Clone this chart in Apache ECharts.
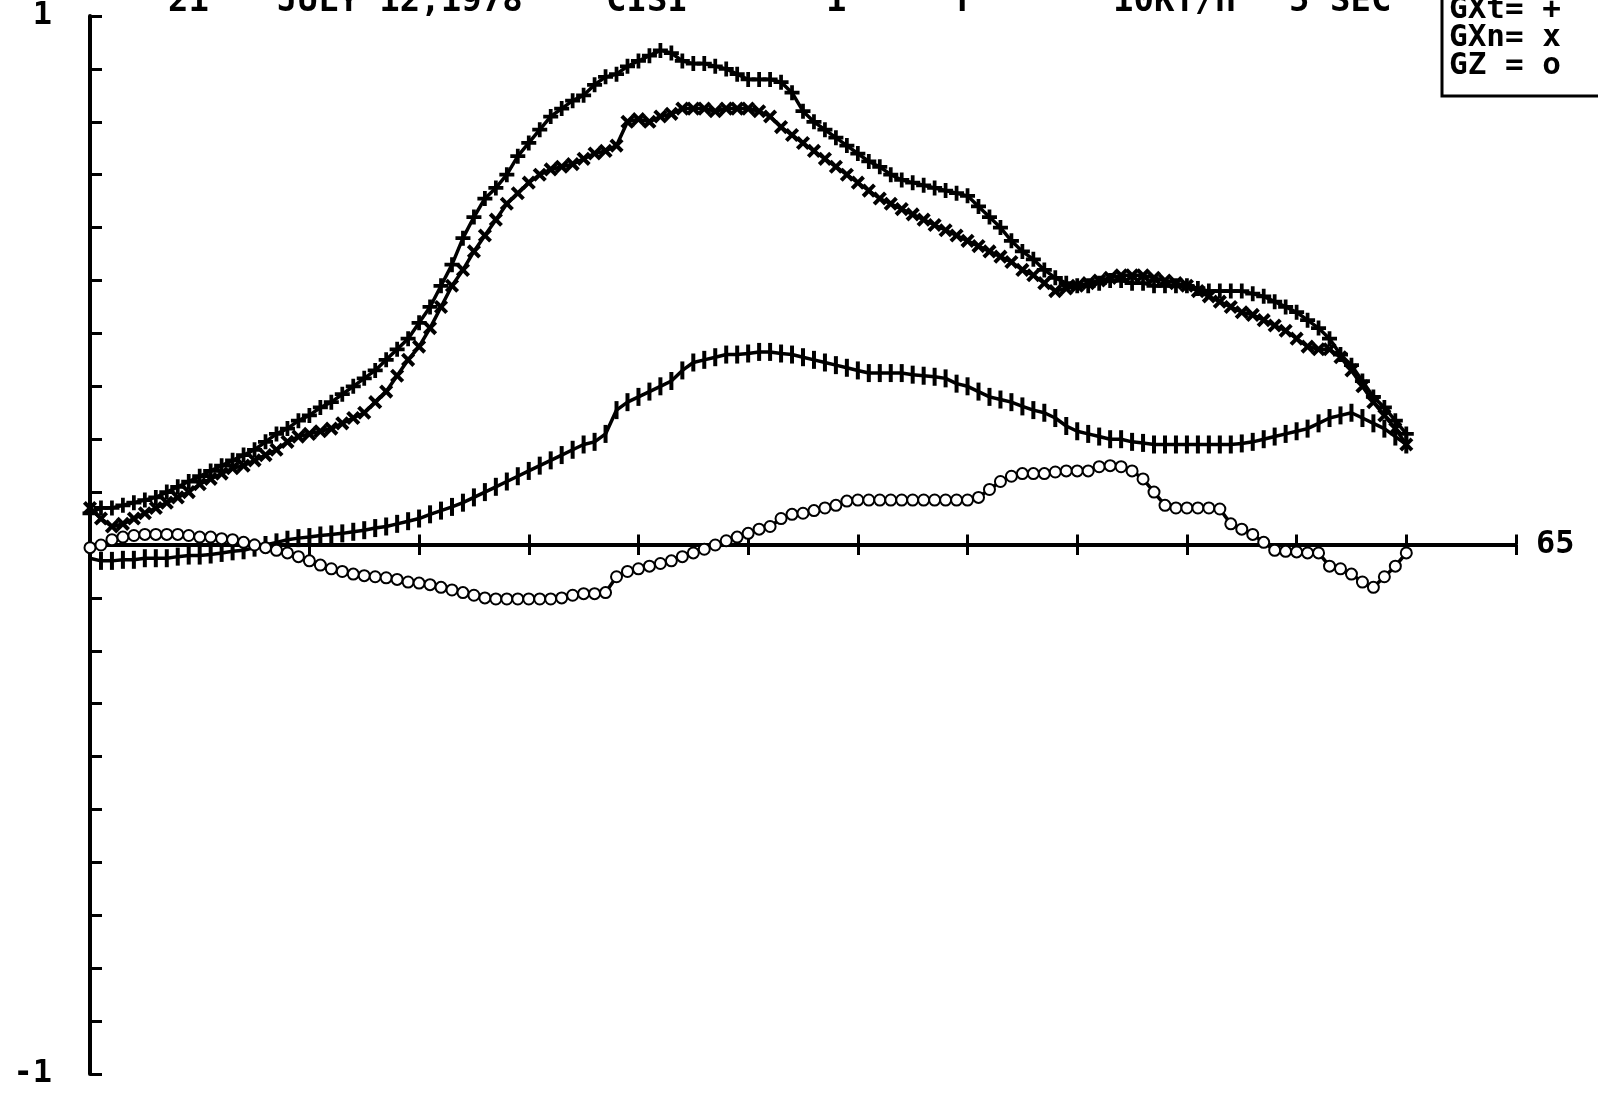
<!DOCTYPE html>
<html>
<head>
<meta charset="utf-8">
<script src="https://cdn.jsdelivr.net/npm/echarts@6/dist/echarts.min.js"></script>
<style>
  html, body { margin: 0; padding: 0; background: #fff; }
  #chart { width: 1598px; height: 1093px; }
</style>
</head>
<body>
<div id="chart"></div>
<script>
// sample times (x axis), one point every half unit
const sampleT = [
  0, 0.5, 1, 1.5, 2, 2.5, 3, 3.5, 4, 4.5,
  5, 5.5, 6, 6.5, 7, 7.5, 8, 8.5, 9, 9.5,
  10, 10.5, 11, 11.5, 12, 12.5, 13, 13.5, 14, 14.5,
  15, 15.5, 16, 16.5, 17, 17.5, 18, 18.5, 19, 19.5,
  20, 20.5, 21, 21.5, 22, 22.5, 23, 23.5, 24, 24.5,
  25, 25.5, 26, 26.5, 27, 27.5, 28, 28.5, 29, 29.5,
  30, 30.5, 31, 31.5, 32, 32.5, 33, 33.5, 34, 34.5,
  35, 35.5, 36, 36.5, 37, 37.5, 38, 38.5, 39, 39.5,
  40, 40.5, 41, 41.5, 42, 42.5, 43, 43.5, 44, 44.5,
  45, 45.5, 46, 46.5, 47, 47.5, 48, 48.5, 49, 49.5,
  50, 50.5, 51, 51.5, 52, 52.5, 53, 53.5, 54, 54.5,
  55, 55.5, 56, 56.5, 57, 57.5, 58, 58.5, 59, 59.5,
  60
]

// GXt (+)
const gxt = [
  0.06, 0.07, 0.07, 0.075, 0.08, 0.085, 0.09, 0.10, 0.11, 0.12,
  0.13, 0.14, 0.15, 0.16, 0.17, 0.18, 0.195, 0.21, 0.22, 0.235,
  0.245, 0.26, 0.27, 0.285, 0.30, 0.315, 0.33, 0.35, 0.37, 0.39,
  0.42, 0.45, 0.49, 0.53, 0.58, 0.62, 0.655, 0.675, 0.70, 0.735,
  0.76, 0.785, 0.81, 0.825, 0.84, 0.85, 0.87, 0.885, 0.89, 0.905,
  0.915, 0.925, 0.935, 0.93, 0.915, 0.91, 0.91, 0.905, 0.90, 0.89,
  0.88, 0.88, 0.88, 0.875, 0.855, 0.82, 0.80, 0.785, 0.77, 0.755,
  0.74, 0.725, 0.715, 0.70, 0.69, 0.685, 0.68, 0.675, 0.67, 0.665,
  0.66, 0.64, 0.62, 0.60, 0.575, 0.555, 0.54, 0.52, 0.505, 0.495,
  0.49, 0.49, 0.495, 0.50, 0.50, 0.495, 0.495, 0.49, 0.49, 0.49,
  0.49, 0.485, 0.48, 0.48, 0.48, 0.48, 0.475, 0.47, 0.46, 0.45,
  0.44, 0.425, 0.41, 0.39, 0.36, 0.34, 0.31, 0.28, 0.26, 0.235,
  0.21
]

// GXn (x)
const gxn = [
  0.07, 0.05, 0.035, 0.04, 0.05, 0.06, 0.07, 0.08, 0.09, 0.10,
  0.115, 0.125, 0.135, 0.145, 0.15, 0.16, 0.17, 0.18, 0.195, 0.205,
  0.21, 0.215, 0.22, 0.23, 0.24, 0.25, 0.27, 0.29, 0.32, 0.35,
  0.375, 0.41, 0.45, 0.49, 0.52, 0.555, 0.585, 0.615, 0.645, 0.665,
  0.685, 0.70, 0.71, 0.715, 0.72, 0.73, 0.74, 0.745, 0.755, 0.80,
  0.805, 0.80, 0.81, 0.815, 0.825, 0.825, 0.825, 0.82, 0.825, 0.825,
  0.825, 0.82, 0.81, 0.79, 0.775, 0.76, 0.745, 0.73, 0.715, 0.70,
  0.685, 0.67, 0.655, 0.645, 0.635, 0.625, 0.615, 0.605, 0.595, 0.585,
  0.575, 0.565, 0.555, 0.545, 0.535, 0.52, 0.51, 0.495, 0.48, 0.485,
  0.49, 0.495, 0.50, 0.505, 0.51, 0.51, 0.51, 0.505, 0.50, 0.495,
  0.49, 0.48, 0.47, 0.46, 0.45, 0.44, 0.435, 0.425, 0.415, 0.405,
  0.39, 0.375, 0.37, 0.37, 0.355, 0.33, 0.30, 0.27, 0.245, 0.22,
  0.19
]

// fourth trace (tick marks), its legend line is off the top of the sheet
const gy = [
  -0.025, -0.03, -0.03, -0.028, -0.028, -0.025, -0.025, -0.025, -0.022, -0.02,
  -0.02, -0.018, -0.015, -0.012, -0.01, -0.005, 0.0, 0.005, 0.01, 0.013,
  0.015, 0.018, 0.02, 0.022, 0.025, 0.028, 0.032, 0.035, 0.04, 0.045,
  0.05, 0.058, 0.065, 0.072, 0.08, 0.09, 0.10, 0.11, 0.12, 0.13,
  0.14, 0.15, 0.16, 0.17, 0.18, 0.19, 0.195, 0.21, 0.255, 0.27,
  0.28, 0.29, 0.30, 0.31, 0.33, 0.345, 0.35, 0.355, 0.36, 0.36,
  0.362, 0.365, 0.365, 0.362, 0.36, 0.355, 0.35, 0.345, 0.34, 0.335,
  0.33, 0.325, 0.325, 0.325, 0.325, 0.322, 0.32, 0.318, 0.315, 0.305,
  0.30, 0.29, 0.28, 0.275, 0.27, 0.262, 0.255, 0.25, 0.24, 0.225,
  0.215, 0.21, 0.205, 0.20, 0.20, 0.195, 0.193, 0.19, 0.19, 0.19,
  0.19, 0.19, 0.19, 0.19, 0.19, 0.192, 0.195, 0.20, 0.205, 0.21,
  0.215, 0.22, 0.23, 0.24, 0.245, 0.25, 0.24, 0.23, 0.22, 0.205,
  0.19
]

// GZ (o)
const gz = [
  -0.005, 0.0, 0.01, 0.015, 0.018, 0.02, 0.02, 0.02, 0.02, 0.018,
  0.015, 0.015, 0.012, 0.01, 0.005, 0.0, -0.005, -0.01, -0.015, -0.022,
  -0.03, -0.038, -0.045, -0.05, -0.055, -0.058, -0.06, -0.062, -0.065, -0.07,
  -0.072, -0.075, -0.08, -0.085, -0.09, -0.095, -0.1, -0.102, -0.102, -0.102,
  -0.102, -0.102, -0.102, -0.1, -0.095, -0.092, -0.092, -0.09, -0.06, -0.05,
  -0.045, -0.04, -0.035, -0.03, -0.022, -0.015, -0.008, 0.0, 0.008, 0.015,
  0.022, 0.03, 0.035, 0.05, 0.058, 0.06, 0.065, 0.07, 0.075, 0.083,
  0.085, 0.085, 0.085, 0.085, 0.085, 0.085, 0.085, 0.085, 0.085, 0.085,
  0.085, 0.09, 0.105, 0.12, 0.13, 0.135, 0.135, 0.135, 0.138, 0.14,
  0.14, 0.14, 0.148, 0.15, 0.148, 0.14, 0.125, 0.1, 0.075, 0.07,
  0.07, 0.07, 0.07, 0.068, 0.04, 0.03, 0.02, 0.005, -0.01, -0.012,
  -0.013, -0.015, -0.015, -0.04, -0.045, -0.055, -0.07, -0.08, -0.06, -0.04,
  -0.015
]

// header line of the plot (clipped at the top edge of the sheet)
const headerTexts = ['21', 'JULY 12,1978', 'CISI', '1', 'T', '10KT/H', '5 SEC']
const headerLeft = [168, 277, 606, 826, 952, 1113, 1289]

const legendLabels = { GXt: 'GXt= +', GXn: 'GXn= x', GZ: 'GZ = o' }

const FONT = '"DejaVu Sans Mono", monospace'
const INK = '#000'
const plusPath = 'path://M3,0H5V3H8V5H5V8H3V5H0V3H3Z'

const pair = (ys) => ys.map((y, i) => [sampleT[i], y])

const chart = echarts.init(document.getElementById('chart'), null, { renderer: 'canvas' })

// same plot box twice: the second one only carries the upward half of the x ticks
const plotBox = { left: 90, right: 82, top: 15, bottom: 19, containLabel: false }

const option = {
  animation: false,
  backgroundColor: '#fff',
  title: headerTexts.map((txt, i) => ({
    text: txt,
    left: headerLeft[i],
    top: -15,
    padding: 0,
    textStyle: { fontFamily: FONT, fontWeight: 'bold', fontSize: 34, color: INK, lineHeight: 34 }
  })),
  legend: {
    data: ['GXt', 'GXn', 'GZ'],
    orient: 'vertical',
    left: 1442,
    top: -14,
    icon: 'none',
    itemWidth: 0,
    itemHeight: 0,
    itemGap: -3,
    selectedMode: false,
    padding: [8, 80, 15, 2],
    borderColor: INK,
    borderWidth: 3,
    formatter: (name) => legendLabels[name],
    textStyle: { fontFamily: FONT, fontWeight: 'bold', fontSize: 31, color: INK, lineHeight: 27 }
  },
  grid: [plotBox, { ...plotBox }],
  xAxis: [
    {
      gridIndex: 0,
      type: 'value',
      min: 0,
      max: 65,
      interval: 5,
      name: '65',
      nameLocation: 'end',
      nameGap: 20,
      nameTextStyle: { fontFamily: FONT, fontWeight: 'bold', fontSize: 32, color: INK, verticalAlign: 'middle' },
      axisLine: { onZero: true, lineStyle: { color: INK, width: 3 } },
      axisTick: { show: true, inside: false, length: 10, lineStyle: { color: INK, width: 3 } },
      axisLabel: { show: false },
      splitLine: { show: false }
    },
    {
      gridIndex: 1,
      type: 'value',
      min: 0,
      max: 65,
      interval: 5,
      axisLine: { onZero: true, lineStyle: { color: INK, width: 3 } },
      axisTick: { show: true, inside: true, length: 10, lineStyle: { color: INK, width: 3 } },
      axisLabel: { show: false },
      splitLine: { show: false }
    }
  ],
  yAxis: [
    {
      gridIndex: 0,
      type: 'value',
      min: -1,
      max: 1,
      interval: 0.1,
      axisLine: { lineStyle: { color: INK, width: 4 } },
      axisTick: { show: true, inside: true, length: 12, lineStyle: { color: INK, width: 3 } },
      axisLabel: {
        margin: 38,
        fontFamily: FONT,
        fontWeight: 'bold',
        fontSize: 32,
        color: INK,
        formatter: (v) => (Math.abs(v - 1) < 1e-6 ? '1' : Math.abs(v + 1) < 1e-6 ? '-1' : '')
      },
      splitLine: { show: false }
    },
    {
      gridIndex: 1,
      type: 'value',
      min: -1,
      max: 1,
      interval: 0.1,
      show: true,
      axisLine: { show: false },
      axisTick: { show: false },
      axisLabel: { show: false },
      splitLine: { show: false }
    }
  ],
  series: [
    {
      name: 'GXt',
      type: 'line',
      data: pair(gxt),
      symbol: plusPath,
      symbolSize: 15,
      showAllSymbol: true,
      lineStyle: { color: INK, width: 3.5 },
      itemStyle: { color: INK }
    },
    {
      name: 'GXn',
      type: 'line',
      data: pair(gxn),
      symbol: plusPath,
      symbolSize: 16,
      symbolRotate: 45,
      showAllSymbol: true,
      lineStyle: { color: INK, width: 3.5 },
      itemStyle: { color: INK }
    },
    {
      name: 'GY',
      type: 'line',
      data: pair(gy),
      symbol: 'rect',
      symbolSize: [4, 18],
      showAllSymbol: true,
      lineStyle: { color: INK, width: 3.5 },
      itemStyle: { color: INK }
    },
    {
      name: 'GZ',
      type: 'line',
      data: pair(gz),
      symbol: 'emptyCircle',
      symbolSize: 11,
      showAllSymbol: true,
      lineStyle: { color: INK, width: 3.5 },
      itemStyle: { color: INK, borderWidth: 3 }
    }
  ]
}

chart.setOption(option)
</script>
</body>
</html>
